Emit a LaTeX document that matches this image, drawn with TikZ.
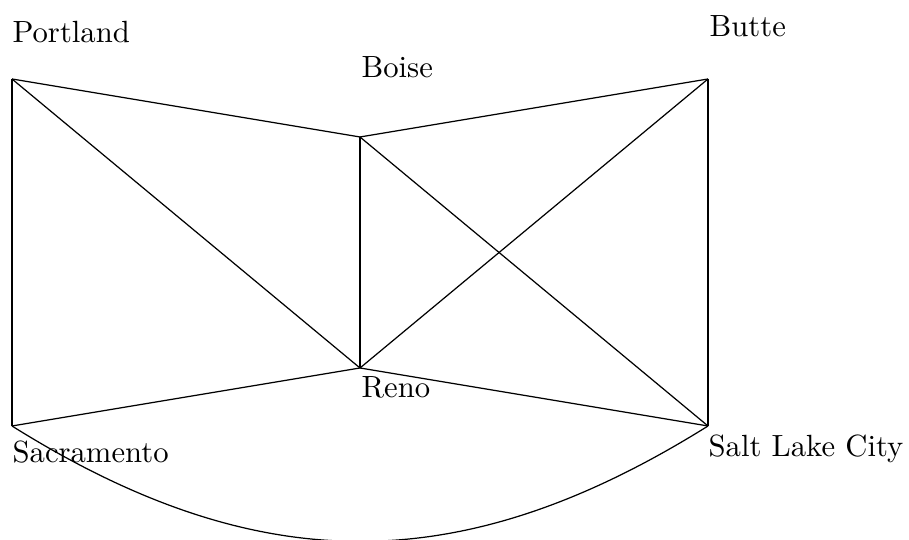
\documentclass[tikz,border=0pt]{standalone}
\begin{document}
\begin{tikzpicture}[x=0.326pt,y=-0.326pt,
  city/.style={inner sep=0pt,anchor=base west},
  road/.style={line width=0.4pt}]
\useasboundingbox (0,0) rectangle (909,540);
\coordinate (P) at (12,79);
\coordinate (B) at (360,137);
\coordinate (U) at (708,79);
\coordinate (R) at (360,368);
\coordinate (S) at (12,426);
\coordinate (L) at (708,426);
\node[city] (pl) at (12,43) {Portland};
\node[city] (bl) at (361,78) {Boise};
\node[city] (ul) at (709,37) {Butte};
\node[city] (rl) at (361,398) {Reno};
\node[city] (sl) at (12,463) {Sacramento};
\node[city] (ll) at (708,457) {Salt Lake City};
\draw[road] (P) -- (B);
\draw[road] (P) -- (R);
\draw[road] (P) -- (S);
\draw[road] (B) -- (U);
\draw[road] (B) -- (R);
\draw[road] (B) -- (L);
\draw[road] (U) -- (R);
\draw[road] (U) -- (L);
\draw[road] (R) -- (S);
\draw[road] (R) -- (L);
\draw[road] (S) to[out=-32,in=-148,looseness=1.07] (L);
\end{tikzpicture}
\end{document}
